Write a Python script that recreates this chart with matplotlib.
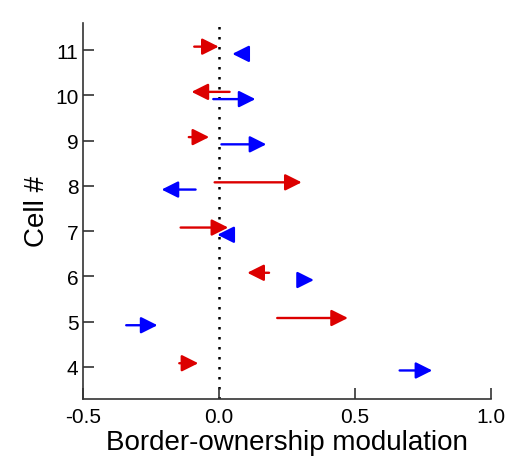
import numpy as np
import matplotlib.pyplot as plt

plt.rcParams['font.family'] = ['Liberation Sans', 'DejaVu Sans']

cells = [11, 10, 9, 8, 7, 6, 5, 4]
# red arrows (start -> end)
redStart = [-0.09, 0.04, -0.11, -0.015, -0.14, 0.185, 0.215, -0.145]
redEnd = [0.0, -0.10, -0.035, 0.305, 0.035, 0.105, 0.475, -0.075]
# blue arrows (start -> end)
blueStart = [0.105, -0.02, 0.01, -0.085, 0.055, 0.295, -0.34, 0.665]
blueEnd = [0.05, 0.135, 0.175, -0.21, -0.005, 0.35, -0.225, 0.785]

offset = 0.08

fig = plt.figure(figsize=(5.3, 4.64), dpi=100)
ax = fig.add_axes([0.156, 0.139, 0.77, 0.809])

ax.axvline(0, color='k', linestyle=(0, (1, 3)), linewidth=1.8, zorder=1)

def arrow(x0, x1, y, col):
    ax.annotate('', xy=(x1, y), xytext=(x0, y),
                arrowprops=dict(arrowstyle='-|>,head_length=1.0,head_width=0.5',
                                mutation_scale=10, color=col, lw=1.7,
                                shrinkA=0, shrinkB=0), zorder=3)

for i in range(len(cells)):
    arrow(redStart[i], redEnd[i], cells[i] + offset, '#dc0000')
    arrow(blueStart[i], blueEnd[i], cells[i] - offset, '#0000ff')

ax.set_xlim(-0.5, 1.0)
ax.set_ylim(3.3, 11.6)
ax.set_xticks([-0.5, 0.0, 0.5, 1.0])
ax.set_xticklabels(['-0.5', '0.0', '0.5', '1.0'])
ax.set_yticks(cells)
ax.spines['top'].set_visible(False)
ax.spines['right'].set_visible(False)
for s in ['left', 'bottom']:
    ax.spines[s].set_color('#333333')
    ax.spines[s].set_linewidth(1.2)
ax.tick_params(direction='in', length=8, width=1.2, color='#333333',
               labelsize=15)
ax.tick_params(axis='y', pad=3)
ax.tick_params(axis='x', pad=6)
ax.set_xlabel('Border-ownership modulation', fontsize=20, labelpad=2)
ax.set_ylabel('Cell #', fontsize=20, labelpad=4)

plt.savefig('out.png', dpi=100)
